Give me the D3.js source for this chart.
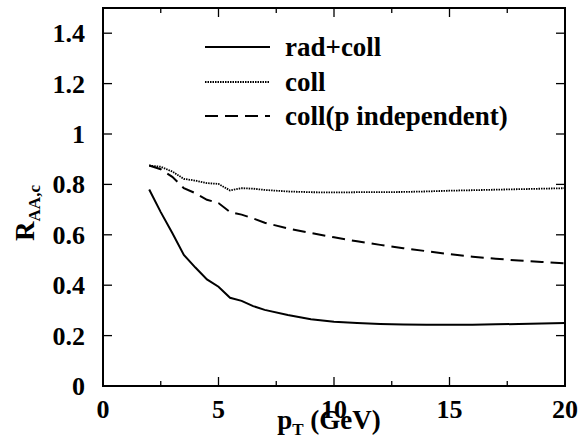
<!DOCTYPE html>
<html>
<head>
<meta charset="utf-8">
<script src="https://cdn.jsdelivr.net/npm/d3@7"></script>
<style>
  body { margin: 0; background: #fff; }
</style>
</head>
<body>
<svg id="chart" width="586" height="447"></svg>
<script>
const pT = [2, 2.5, 3, 3.5, 4, 4.5, 5, 5.5, 6, 6.5, 7, 8, 9, 10, 11, 12, 13, 14, 15, 16, 17, 18, 19, 20];
const radColl = [0.78, 0.69, 0.607, 0.52, 0.47, 0.423, 0.394, 0.35, 0.338, 0.317, 0.302, 0.282, 0.265, 0.255, 0.25, 0.246, 0.244, 0.243, 0.243, 0.243, 0.245, 0.246, 0.248, 0.25];
const coll = [0.875, 0.87, 0.851, 0.822, 0.815, 0.805, 0.802, 0.776, 0.785, 0.783, 0.778, 0.772, 0.769, 0.768, 0.769, 0.769, 0.77, 0.772, 0.775, 0.777, 0.779, 0.781, 0.783, 0.785];
const collPind = [0.875, 0.86, 0.83, 0.785, 0.765, 0.739, 0.726, 0.69, 0.68, 0.665, 0.648, 0.625, 0.607, 0.59, 0.574, 0.56, 0.547, 0.535, 0.523, 0.513, 0.505, 0.498, 0.492, 0.487];
const seriesNames = ["rad+coll", "coll", "coll(p independent)"];
const xTicks = [0, 5, 10, 15, 20];
const xMinorTicks = [2.5, 7.5, 12.5, 17.5];
const yTicks = [0, 0.2, 0.4, 0.6, 0.8, 1, 1.2, 1.4];

const FONT = "Liberation Serif";
const svg = d3.select("#chart");
const L = 103, R = 565, T = 8, B = 386;
const x = d3.scaleLinear().domain([0, 20]).range([L, R]);
const y = d3.scaleLinear().domain([0, 1.5]).range([B, T]);

function txt(sel) {
  return sel.append("text").attr("font-family", FONT).attr("font-weight", "bold").attr("fill", "#000");
}

const styles = [
  { dash: null, width: 2 },
  { dash: "1.5,1", width: 1.8 },
  { dash: "13,7", width: 2 }
];
const data = [radColl, coll, collPind];

// ticks (inward, all four sides)
const ax = svg.append("g");
const tickColor = "#000";
yTicks.forEach(v => {
  ax.append("line").attr("x1", L).attr("x2", L + 9).attr("y1", y(v)).attr("y2", y(v)).attr("stroke", tickColor).attr("stroke-width", 1.3);
  ax.append("line").attr("x1", R).attr("x2", R - 9).attr("y1", y(v)).attr("y2", y(v)).attr("stroke", tickColor).attr("stroke-width", 1.3);
  txt(ax).attr("x", 85).attr("y", y(v) + 9).attr("text-anchor", "end").attr("font-size", 26).text(d3.format("")(v));
});
xTicks.forEach(v => {
  ax.append("line").attr("x1", x(v)).attr("x2", x(v)).attr("y1", B).attr("y2", B - 9).attr("stroke", tickColor).attr("stroke-width", 1.3);
  ax.append("line").attr("x1", x(v)).attr("x2", x(v)).attr("y1", T).attr("y2", T + 9).attr("stroke", tickColor).attr("stroke-width", 1.3);
  txt(ax).attr("x", x(v)).attr("y", 418).attr("text-anchor", "middle").attr("font-size", 26).text(v);
});
xMinorTicks.forEach(v => {
  ax.append("line").attr("x1", x(v)).attr("x2", x(v)).attr("y1", B).attr("y2", B - 5).attr("stroke", tickColor).attr("stroke-width", 1.3);
  ax.append("line").attr("x1", x(v)).attr("x2", x(v)).attr("y1", T).attr("y2", T + 5).attr("stroke", tickColor).attr("stroke-width", 1.3);
});

// frame
svg.append("rect").attr("x", L).attr("y", T).attr("width", R - L).attr("height", B - T)
  .attr("fill", "none").attr("stroke", "#000").attr("stroke-width", 2);

// lines
const line = d3.line().x((d, i) => x(pT[i])).y(d => y(d));
data.forEach((s, k) => {
  svg.append("path").datum(s).attr("d", line).attr("fill", "none")
    .attr("stroke", "#000").attr("stroke-width", styles[k].width)
    .attr("stroke-dasharray", styles[k].dash);
});

// legend
const legY = [47, 82, 116];
seriesNames.forEach((n, k) => {
  svg.append("line").attr("x1", 205).attr("x2", 270).attr("y1", legY[k]).attr("y2", legY[k])
    .attr("stroke", "#000").attr("stroke-width", styles[k].width).attr("stroke-dasharray", styles[k].dash);
  txt(svg).attr("x", 285).attr("y", legY[k] + 9).attr("font-size", 27).text(n);
});

// axis labels
const xl = txt(svg).attr("x", 329).attr("y", 429).attr("text-anchor", "middle").attr("font-size", 27);
xl.append("tspan").text("p");
xl.append("tspan").attr("font-size", 17).attr("dy", 6).text("T");
xl.append("tspan").attr("dy", -6).text(" (GeV)");

const yl = txt(svg).attr("transform", "translate(34,213) rotate(-90)").attr("text-anchor", "middle").attr("font-size", 27);
yl.append("tspan").text("R");
yl.append("tspan").attr("font-size", 17).attr("dy", 6).text("AA,c");
</script>
</body>
</html>
